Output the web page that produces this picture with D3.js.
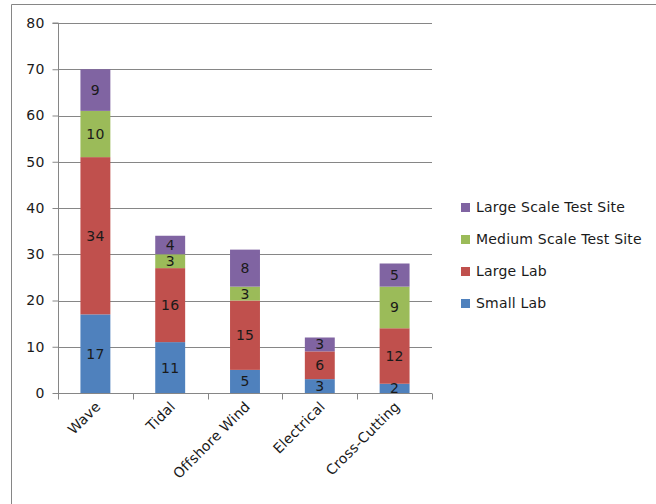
<!DOCTYPE html>
<html>
<head>
<meta charset="utf-8">
<script src="https://cdn.jsdelivr.net/npm/d3@7"></script>
<style>
  body { margin: 0; background: #fff; }
  svg { display: block; }
</style>
</head>
<body>
<svg id="chart" width="656" height="504"></svg>
<script>
const categories = ['Wave', 'Tidal', 'Offshore Wind', 'Electrical', 'Cross-Cutting']
const seriesNames = ['Small Lab', 'Large Lab', 'Medium Scale Test Site', 'Large Scale Test Site']
const smallLab = [17, 11, 5, 3, 2]
const largeLab = [34, 16, 15, 6, 12]
const mediumSite = [10, 3, 3, 0, 9]
const largeSite = [9, 4, 8, 3, 5]
const yTicks = [0, 10, 20, 30, 40, 50, 60, 70, 80]
const colors = ['#4f81bd', '#c0504d', '#9bbb59', '#8064a2']

const font = 'DejaVu Sans, Verdana, sans-serif'
const fontSize = 14
const spacing = '0.2px'
const svg = d3.select('#chart')

// outer chart border (open to the right and bottom)
svg.append('path')
  .attr('d', 'M11.5,504 V4.5 H656')
  .attr('fill', 'none')
  .attr('stroke', '#868686')
  .attr('stroke-width', 1)

const plot = { left: 58, right: 432, top: 23, bottom: 393 }

const x = d3.scaleBand()
  .domain(categories)
  .range([plot.left, plot.right])
  .paddingInner(0.6)
  .paddingOuter(0.3)

const y = d3.scaleLinear()
  .domain([0, 80])
  .range([plot.bottom, plot.top])

// gridlines
svg.append('g')
  .selectAll('line')
  .data(yTicks.slice(1))
  .join('line')
  .attr('x1', plot.left)
  .attr('x2', plot.right)
  .attr('y1', d => Math.round(y(d)) + 0.5)
  .attr('y2', d => Math.round(y(d)) + 0.5)
  .attr('stroke', '#868686')

// stacked data
const table = categories.map((c, i) => ({
  category: c,
  'Small Lab': smallLab[i],
  'Large Lab': largeLab[i],
  'Medium Scale Test Site': mediumSite[i],
  'Large Scale Test Site': largeSite[i]
}))
const stacked = d3.stack().keys(seriesNames)(table)

const layers = svg.append('g')
  .selectAll('g')
  .data(stacked)
  .join('g')
  .attr('fill', (d, i) => colors[i])

layers.selectAll('rect')
  .data(d => d)
  .join('rect')
  .attr('x', d => x(d.data.category))
  .attr('width', x.bandwidth())
  .attr('y', d => y(d[1]))
  .attr('height', d => y(d[0]) - y(d[1]))

// value labels
const labels = svg.append('g')
stacked.forEach(layer => {
  layer.forEach(d => {
    const v = d[1] - d[0]
    if (v <= 0) return
    labels.append('text')
      .attr('x', x(d.data.category) + x.bandwidth() / 2)
      .attr('y', (y(d[0]) + y(d[1])) / 2)
      .attr('dy', '0.36em')
      .attr('text-anchor', 'middle')
      .attr('font-family', font)
      .attr('font-size', fontSize)
      .attr('letter-spacing', spacing)
      .attr('fill', '#1a1a1a')
      .text(v)
  })
})

// y axis
const yAxis = svg.append('g')
  .attr('transform', `translate(${plot.left + 0.5},0)`)
  .call(d3.axisLeft(y).tickValues(yTicks).tickSize(6).tickPadding(8))
yAxis.select('.domain').attr('stroke', '#868686').attr('d', `M-6,${plot.top}H0V${plot.bottom}`)
yAxis.selectAll('.tick line').attr('stroke', '#868686')
yAxis.selectAll('.tick text')
  .attr('font-family', font)
  .attr('font-size', fontSize)
  .attr('letter-spacing', spacing)
  .attr('fill', '#1a1a1a')

// x axis
const xg = svg.append('g')
  .attr('transform', `translate(0,${plot.bottom + 0.5})`)
xg.append('line')
  .attr('x1', plot.left)
  .attr('x2', plot.right)
  .attr('stroke', '#868686')
const boundaries = d3.range(categories.length + 1).map(i => plot.left + i * (plot.right - plot.left) / categories.length)
xg.selectAll('.xt')
  .data(boundaries)
  .join('line')
  .attr('x1', d => Math.round(d) + 0.5)
  .attr('x2', d => Math.round(d) + 0.5)
  .attr('y1', 0)
  .attr('y2', 6)
  .attr('stroke', '#868686')

xg.selectAll('text')
  .data(categories)
  .join('text')
  .attr('transform', d => `translate(${x(d) + x.bandwidth() / 2 + 6},${14}) rotate(-45)`)
  .attr('text-anchor', 'end')
  .attr('font-family', font)
  .attr('font-size', fontSize)
  .attr('letter-spacing', spacing)
  .attr('fill', '#1a1a1a')
  .text(d => d)

// legend (reverse order, top = last series)
const legend = svg.append('g')
  .attr('transform', 'translate(461,207)')
const items = seriesNames.slice().reverse()
items.forEach((name, i) => {
  const g = legend.append('g').attr('transform', `translate(0,${i * 32})`)
  g.append('rect')
    .attr('x', 0)
    .attr('y', -4)
    .attr('width', 9)
    .attr('height', 9)
    .attr('fill', colors[seriesNames.indexOf(name)])
  g.append('text')
    .attr('x', 15)
    .attr('y', 0)
    .attr('dy', '0.36em')
    .attr('font-family', font)
    .attr('font-size', fontSize)
    .attr('letter-spacing', spacing)
    .attr('fill', '#1a1a1a')
    .text(name)
})
</script>
</body>
</html>
